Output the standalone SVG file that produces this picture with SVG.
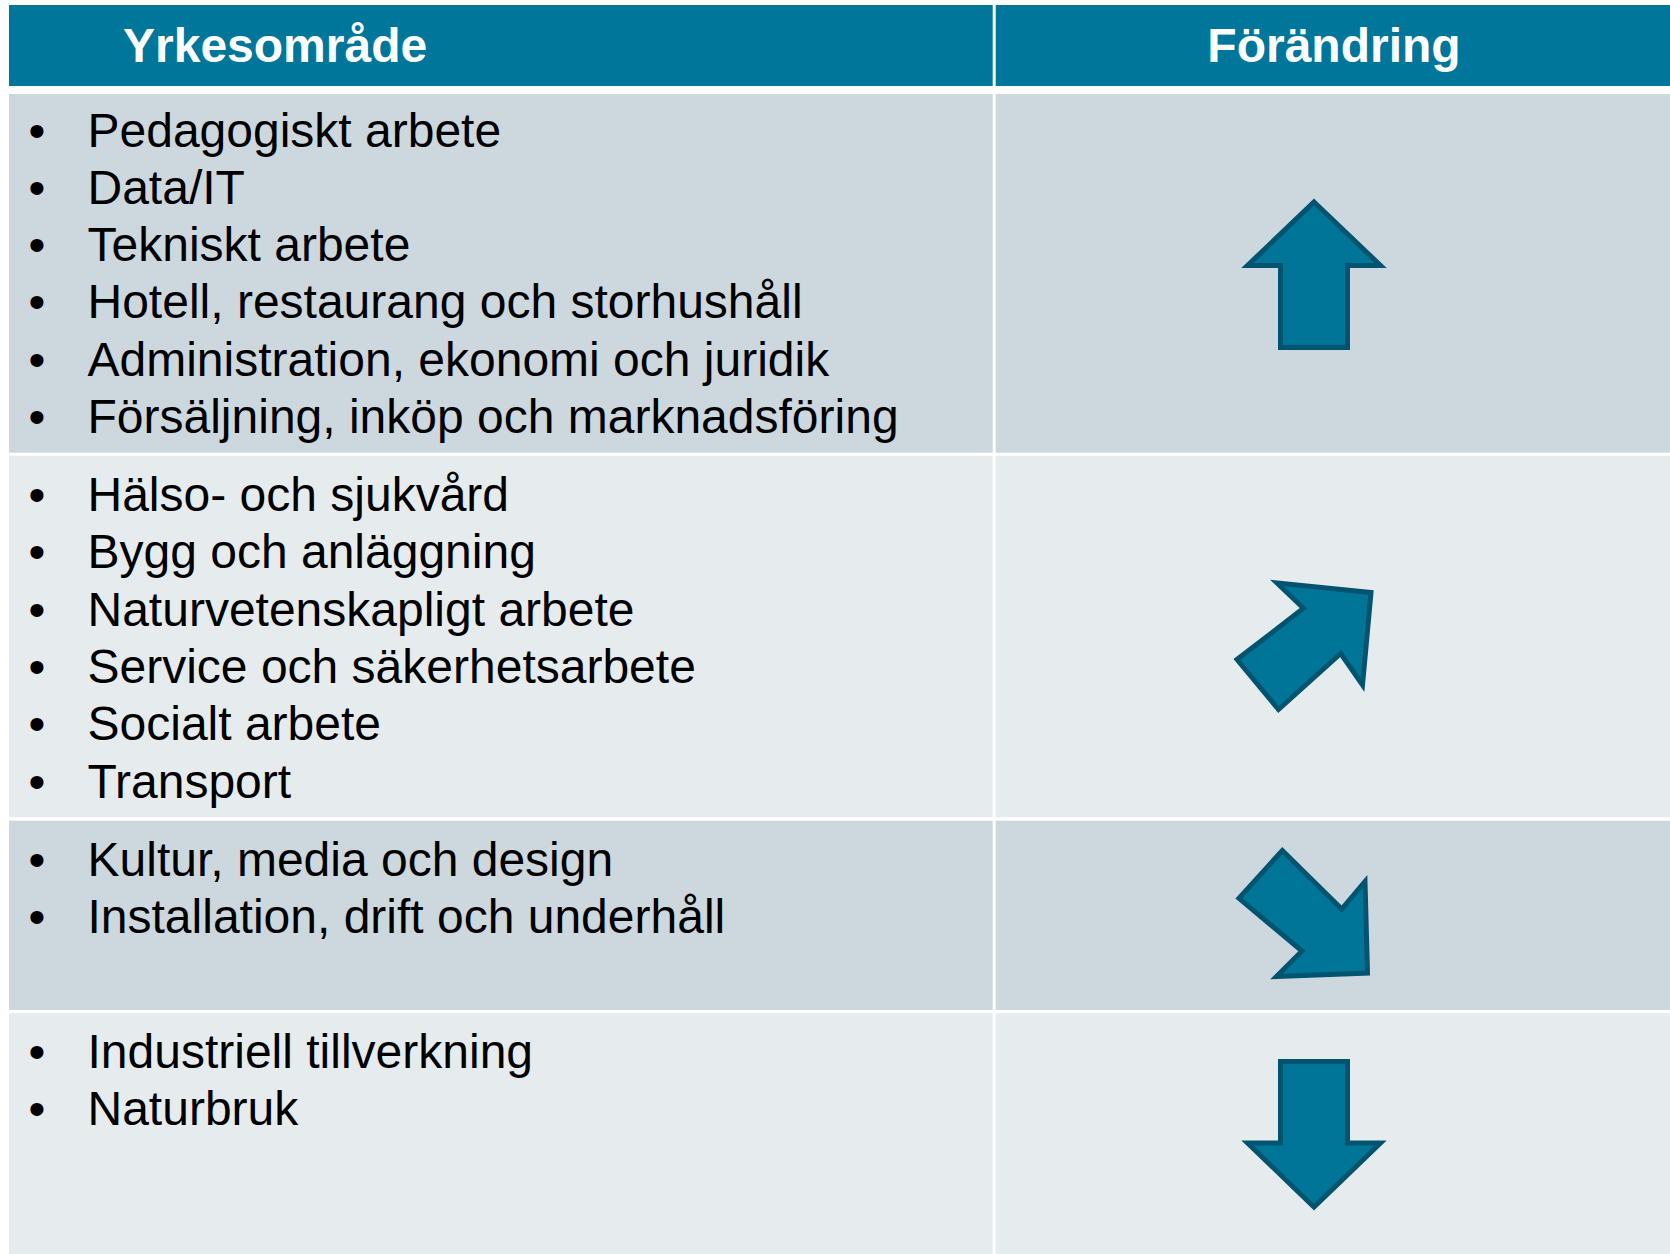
<svg xmlns="http://www.w3.org/2000/svg" width="1670" height="1254" viewBox="0 0 1670 1254">
<style>
.hdr{fill:#00769B}
.r1{fill:#CCD7DE}
.r2{fill:#E6EBEE}
.ht{font-family:"Liberation Sans",Arial,sans-serif;font-size:48px;font-weight:bold;fill:#FFFFFF}
.t{font-family:"Liberation Sans",Arial,sans-serif;font-size:48px;fill:#000000}
.arr{fill:#007598;stroke:#00546F;stroke-width:5;stroke-linejoin:miter}
</style>
<rect x="0" y="0" width="1670" height="1254" fill="#FFFFFF"/>
<g id="header-yrkesomrade">
<rect class="hdr" x="9" y="5" width="983.7" height="81"/>
<text class="ht" x="123" y="61.5">Yrkesområde</text>
</g>
<g id="header-forandring">
<rect class="hdr" x="995.7" y="5" width="674.3" height="81"/>
<text class="ht" x="1334" y="61.5" text-anchor="middle">Förändring</text>
</g>
<g id="row1-list">
<rect class="r1" x="9" y="94" width="983.7" height="358.7"/>
<g class="t">
<text x="28.5" y="146.5">•</text><text x="87.5" y="146.5">Pedagogiskt arbete</text>
<text x="28.5" y="203.8">•</text><text x="87.5" y="203.8">Data/IT</text>
<text x="28.5" y="261.1">•</text><text x="87.5" y="261.1">Tekniskt arbete</text>
<text x="28.5" y="318.4">•</text><text x="87.5" y="318.4">Hotell, restaurang och storhushåll</text>
<text x="28.5" y="375.7">•</text><text x="87.5" y="375.7">Administration, ekonomi och juridik</text>
<text x="28.5" y="433">•</text><text x="87.5" y="433">Försäljning, inköp och marknadsföring</text>
</g>
</g>
<g id="row1-change">
<rect class="r1" x="995.7" y="94" width="674.3" height="358.7"/>
<path class="arr" d="M1314,202 L1380.5,265.5 L1347.5,265.5 L1347.5,347.5 L1280.5,347.5 L1280.5,265.5 L1247.5,265.5 Z"/>
</g>
<g id="row2-list">
<rect class="r2" x="9" y="455.7" width="983.7" height="361.6"/>
<g class="t">
<text x="28.5" y="511">•</text><text x="87.5" y="511">Hälso- och sjukvård</text>
<text x="28.5" y="568.3">•</text><text x="87.5" y="568.3">Bygg och anläggning</text>
<text x="28.5" y="625.6">•</text><text x="87.5" y="625.6">Naturvetenskapligt arbete</text>
<text x="28.5" y="682.9">•</text><text x="87.5" y="682.9">Service och säkerhetsarbete</text>
<text x="28.5" y="740.2">•</text><text x="87.5" y="740.2">Socialt arbete</text>
<text x="28.5" y="797.5">•</text><text x="87.5" y="797.5">Transport</text>
</g>
</g>
<g id="row2-change">
<rect class="r2" x="995.7" y="455.7" width="674.3" height="361.6"/>
<path class="arr" d="M1277,583 L1371,592.5 L1362.5,685 L1340.7,653.5 L1278.5,709.5 L1237,659.5 L1303.5,608.3 Z"/>
</g>
<g id="row3-list">
<rect class="r1" x="9" y="820.7" width="983.7" height="189.3"/>
<g class="t">
<text x="28.5" y="876">•</text><text x="87.5" y="876">Kultur, media och design</text>
<text x="28.5" y="933.3">•</text><text x="87.5" y="933.3">Installation, drift och underhåll</text>
</g>
</g>
<g id="row3-change">
<rect class="r1" x="995.7" y="820.7" width="674.3" height="189.3"/>
<path class="arr" d="M1282.3,850.5 L1341.7,909 L1365,881.5 L1367.5,973 L1276.5,976.5 L1302,951 L1239,898.3 Z"/>
</g>
<g id="row4-list">
<rect class="r2" x="9" y="1013.3" width="983.7" height="240.7"/>
<g class="t">
<text x="28.5" y="1067.7">•</text><text x="87.5" y="1067.7">Industriell tillverkning</text>
<text x="28.5" y="1125">•</text><text x="87.5" y="1125">Naturbruk</text>
</g>
</g>
<g id="row4-change">
<rect class="r2" x="995.7" y="1013.3" width="674.3" height="240.7"/>
<path class="arr" d="M1280.5,1061.5 L1347.5,1061.5 L1347.5,1143 L1380.5,1143 L1314,1207 L1247.5,1143 L1280.5,1143 Z"/>
</g>
<g id="connectors"/>
</svg>
